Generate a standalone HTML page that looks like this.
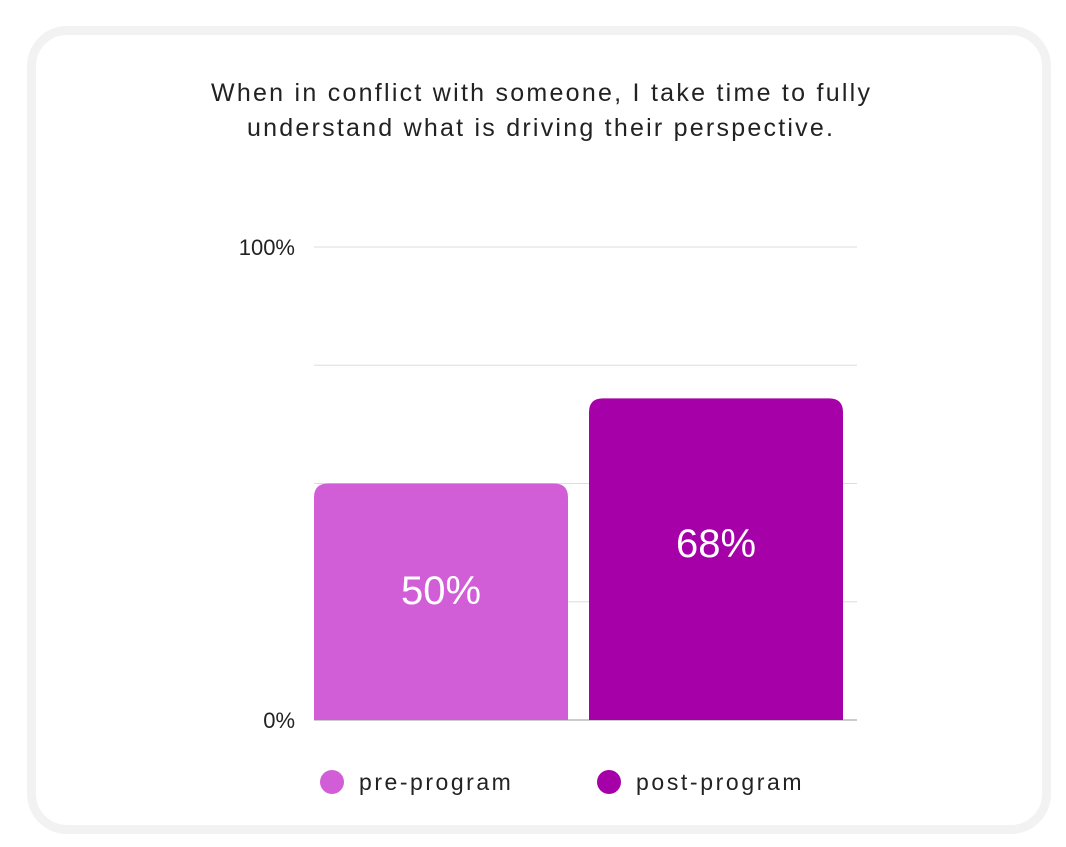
<!DOCTYPE html>
<html><head><meta charset="utf-8"><style>
html,body{margin:0;padding:0;background:#fff;width:1066px;height:847px;overflow:hidden;font-family:"Liberation Sans",sans-serif}
.card{position:absolute;left:27px;top:26px;width:1006px;height:790px;border:9px solid #f2f2f2;border-radius:40px}
</style></head><body>
<div class="card"></div>
<svg width="1066" height="847" style="position:absolute;left:0;top:0">
<text x="211" y="101" font-size="25" fill="#222" textLength="659" lengthAdjust="spacing">When in conflict with someone, I take time to fully</text>
<text x="247" y="136" font-size="25" fill="#222" textLength="586" lengthAdjust="spacing">understand what is driving their perspective.</text>
<g id="grid"></g><g id="bars"></g><g id="legend"></g>
</svg>
<script>
const categories=["pre-program","post-program"];
const values=[50,68];
const colors=["#d15ed6","#a600a8"];
const ticks=[0,25,50,75,100];
const tickLabels={0:"0%",100:"100%"};
const NS="http://www.w3.org/2000/svg";
const x0=314,x1=857,y0=720,y1=247;
const y=v=>y0-(v/100)*(y0-y1);
function mk(t,a,p){const e=document.createElementNS(NS,t);for(const k in a)e.setAttribute(k,a[k]);p.appendChild(e);return e;}
const grid=document.getElementById("grid");
ticks.forEach(t=>{
 const l=mk("line",{x1:x0,x2:x1,y1:y(t),y2:y(t),stroke:t===0?"#999":"#ddd","stroke-width":1},grid);
 
 
 if(tickLabels[t]){const tx=mk("text",{x:295,y:y(t)+8,"text-anchor":"end","font-size":22,fill:"#222"},grid);tx.textContent=tickLabels[t];
 
 }
});
const bars=document.getElementById("bars");
const bw=254,gap=21;
values.forEach((v,i)=>{
 const bx=x0+i*(bw+gap),by=y(v),h=y0-by,r=14;
 const p=mk("path",{d:`M${bx},${y0}V${by+r}Q${bx},${by} ${bx+r},${by}H${bx+bw-r}Q${bx+bw},${by} ${bx+bw},${by+r}V${y0}Z`,fill:colors[i]},bars);
 
 
 const t=mk("text",{x:bx+bw/2,y:by+h*0.45+14,"text-anchor":"middle","font-size":40,fill:"#fff"},bars);
 t.textContent=v+"%";
 
 
});
const lg=document.getElementById("legend");
categories.forEach((c,i)=>{
 const cx=332+i*277;
 const g=mk("g",{},lg);
 
 
 mk("circle",{cx:cx,cy:782,r:12,fill:colors[i]},g);
 const t=mk("text",{x:cx+27,y:790,"font-size":23,fill:"#222",textLength:c.length*13.8,lengthAdjust:"spacing"},g);t.textContent=c;
});
</script>
</body></html>
